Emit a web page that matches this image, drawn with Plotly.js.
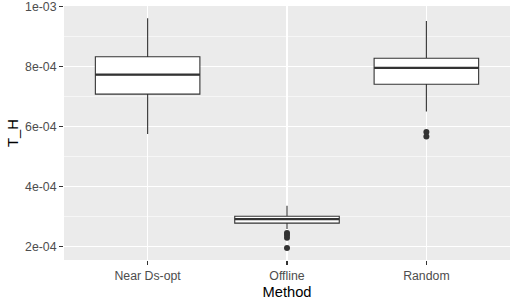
<!DOCTYPE html>
<html>
<head>
<meta charset="utf-8">
<script src="https://cdn.plot.ly/plotly-3.0.1.min.js"></script>
<style>
html,body{margin:0;padding:0;background:#fff;}
#chart{width:518px;height:306px;}
</style>
</head>
<body>
<div id="chart"></div>
<script>
// Data
var methods = ["Near Ds-opt", "Offline", "Random"];
var q1 = [7.08e-4, 2.78e-4, 7.41e-4];
var medians = [7.73e-4, 2.91e-4, 7.96e-4];
var q3 = [8.33e-4, 3.01e-4, 8.28e-4];
var lowerWhisker = [5.75e-4, 2.58e-4, 6.50e-4];
var upperWhisker = [9.61e-4, 3.36e-4, 9.52e-4];
var outlierMethod = [1, 1, 1, 1, 2, 2];
var outlierValue = [2.45e-4, 2.38e-4, 2.29e-4, 1.95e-4, 5.82e-4, 5.67e-4];
var yTickVals = [2e-4, 4e-4, 6e-4, 8e-4, 1e-3];
var yTickText = ["2e-04", "4e-04", "6e-04", "8e-04", "1e-03"];

var boxWidth = 0.75;
var dark = "#333333";
var pos = methods.map(function(_, i){ return i; });

var traces = [{
  type: "box",
  x: pos,
  q1: q1,
  median: medians,
  q3: q3,
  lowerfence: lowerWhisker,
  upperfence: upperWhisker,
  width: boxWidth,
  whiskerwidth: 0,
  boxpoints: false,
  fillcolor: "#FFFFFF",
  line: {color: dark, width: 1.1},
  hoverinfo: "skip",
  showlegend: false
}];

// thicker median line (ggplot style)
pos.forEach(function(p, i){
  traces.push({
    type: "scatter", mode: "lines",
    x: [p - boxWidth/2, p + boxWidth/2],
    y: [medians[i], medians[i]],
    line: {color: dark, width: 2.2},
    hoverinfo: "skip", showlegend: false
  });
});

traces.push({
  type: "scatter", mode: "markers",
  x: outlierMethod, y: outlierValue,
  marker: {color: dark, size: 6},
  hoverinfo: "skip", showlegend: false
});

var layout = {
  width: 518, height: 306,
  margin: {l: 64, r: 8, t: 6, b: 46, pad: 0},
  paper_bgcolor: "#FFFFFF",
  plot_bgcolor: "#EBEBEB",
  font: {family: "Liberation Sans, Arial, sans-serif"},
  xaxis: {
    range: [-0.6, 2.6],
    tickmode: "array", tickvals: pos, ticktext: methods,
    showgrid: true, gridcolor: "#FFFFFF", gridwidth: 1.1,
    zeroline: false, showline: false,
    ticks: "outside", ticklen: 4, tickwidth: 1.1, tickcolor: dark,
    tickfont: {size: 12.3, color: "#4D4D4D"},
    title: {text: "Method", font: {size: 14.7, color: "#000000"}, standoff: 4}
  },
  yaxis: {
    range: [1.55e-4, 1.002e-3],
    tickmode: "array", tickvals: yTickVals, ticktext: yTickText,
    ticklabeloverflow: "allow",
    showgrid: true, gridcolor: "#FFFFFF", gridwidth: 1.1,
    minor: {tickmode: "array", tickvals: [3e-4, 5e-4, 7e-4, 9e-4], showgrid: true, gridcolor: "#FFFFFF", gridwidth: 0.55, ticks: ""},
    zeroline: false, showline: false,
    ticks: "outside", ticklen: 4, tickwidth: 1.1, tickcolor: dark,
    tickfont: {size: 12.3, color: "#4D4D4D"},
    title: {text: "T_H", font: {size: 14.7, color: "#000000"}, standoff: 2}
  }
};

Plotly.newPlot("chart", traces, layout, {staticPlot: true, displayModeBar: false});
</script>
</body>
</html>
